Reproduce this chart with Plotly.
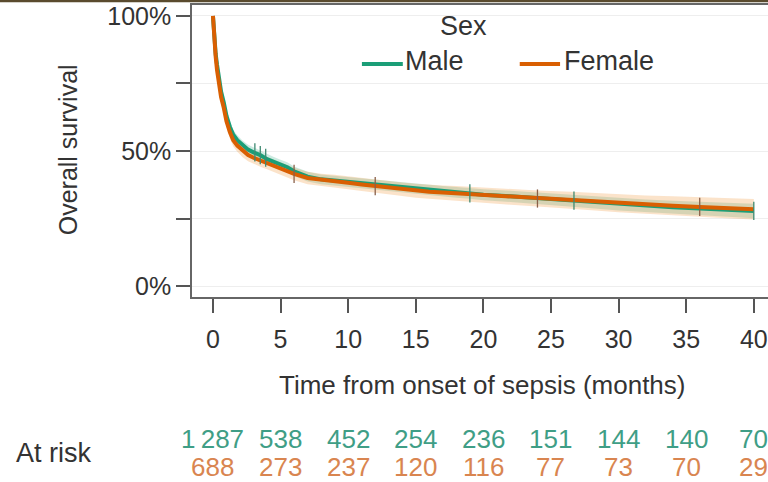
import plotly.graph_objects as go

# Kaplan-Meier estimates (months, % surviving)
male_time = [0, 0.1, 0.2, 0.3, 0.45, 0.6, 0.8, 1.0, 1.25, 1.5, 1.8, 2.2, 2.6, 3.0, 3.5,
             4.0, 4.5, 5.0, 5.5, 6.0, 7, 8, 9, 10, 11, 12, 13, 14, 15, 16, 17, 18, 19,
             20, 22, 24, 26.5, 28, 30, 32, 34, 36, 38, 40]
male_surv = [100, 92, 86, 82, 77, 72, 68, 63, 59, 56, 54, 52, 50.5, 49.5, 48.5,
             47, 46, 45, 44, 42.5, 40.5, 39.5, 39, 38.5, 38, 37.5, 37, 36.5, 36, 35.5, 35, 34.7, 34.3,
             33.8, 33.2, 32.5, 31.6, 31, 30.3, 29.7, 29.2, 28.7, 28.2, 27.8]
male_ci = [0, 0.9, 1.2, 1.4, 1.5, 1.6, 1.7, 1.8, 1.8, 1.8, 1.8, 1.8, 1.8, 1.8, 1.8,
           1.8, 1.8, 1.8, 1.8, 1.8, 1.8, 1.8, 1.8, 1.8, 1.8, 1.9, 1.9, 1.9, 1.9, 1.9, 2.0, 2.0, 2.0,
           2.0, 2.1, 2.1, 2.2, 2.2, 2.3, 2.3, 2.4, 2.5, 2.6, 2.7]

female_time = [0, 0.1, 0.2, 0.3, 0.45, 0.6, 0.8, 1.0, 1.25, 1.5, 1.8, 2.2, 2.6, 3.0, 3.5,
               4.0, 4.5, 5.0, 5.5, 6.0, 7, 8, 9, 10, 11, 12, 13, 14, 15, 16, 17, 18, 19,
               20, 22, 24, 26.5, 28, 30, 32, 34, 36, 38, 40]
female_surv = [100, 91, 85, 80, 75, 70, 66, 61, 57, 54, 52, 50, 48.5, 47.5, 46.5,
               45.5, 44.5, 43.5, 42.5, 41.5, 40, 39.3, 38.8, 38.2, 37.6, 37, 36.4, 35.8, 35.3, 34.9, 34.6, 34.3, 34,
               33.6, 33, 32.4, 31.8, 31.3, 30.6, 30.1, 29.7, 29.3, 28.8, 28.4]
female_ci = [0, 1.3, 1.7, 1.9, 2.0, 2.1, 2.2, 2.2, 2.3, 2.3, 2.3, 2.3, 2.3, 2.3, 2.3,
             2.3, 2.3, 2.3, 2.3, 2.3, 2.3, 2.3, 2.4, 2.4, 2.4, 2.5, 2.5, 2.5, 2.6, 2.6, 2.6, 2.7, 2.7,
             2.8, 2.9, 3.0, 3.1, 3.2, 3.3, 3.4, 3.5, 3.6, 3.7, 3.8]

# Censoring marks
male_cens_time = [3.1, 3.5, 3.9, 19, 26.7, 40]
male_cens_surv = [49.5, 48.5, 47.5, 34.3, 31.6, 27.8]
female_cens_time = [6, 12, 24, 36]
female_cens_surv = [41.5, 37, 32.4, 29.3]

# Numbers at risk
risk_times = [0, 5, 10, 15, 20, 25, 30, 35, 40]
male_at_risk = ["1\u2009287", "538", "452", "254", "236", "151", "144", "140", "70"]
female_at_risk = ["688", "273", "237", "120", "116", "77", "73", "70", "29"]

x_ticks = [0, 5, 10, 15, 20, 25, 30, 35, 40]
y_ticks = [0, 25, 50, 75, 100]
y_labels = ["0%", "", "50%", "", "100%"]

GREEN = "#1b9e77"
ORANGE = "#d95f02"
TEXT = "#333333"
FONT = "Liberation Sans, Arial, sans-serif"

fig = go.Figure()


def add_band(t, s, ci, fillcolor):
    lower = [v - c for v, c in zip(s, ci)]
    upper = [v + c for v, c in zip(s, ci)]
    fig.add_trace(go.Scatter(x=t, y=lower, mode="lines", line=dict(width=0),
                             showlegend=False, hoverinfo="skip"))
    fig.add_trace(go.Scatter(x=t, y=upper, mode="lines", line=dict(width=0),
                             fill="tonexty", fillcolor=fillcolor,
                             showlegend=False, hoverinfo="skip"))


add_band(male_time, male_surv, male_ci, "rgba(27,158,119,0.22)")
add_band(female_time, female_surv, female_ci, "rgba(240,150,60,0.27)")

fig.add_trace(go.Scatter(x=male_time, y=male_surv, mode="lines", name="Male",
                         line=dict(color=GREEN, width=4), showlegend=False))
fig.add_trace(go.Scatter(x=female_time, y=female_surv, mode="lines", name="Female",
                         line=dict(color=ORANGE, width=4), showlegend=False))

fig.add_trace(go.Scatter(x=male_cens_time, y=male_cens_surv, mode="markers", showlegend=False,
                         marker=dict(symbol="line-ns", size=13,
                                     line=dict(color="#3f8a72", width=1.3))))
fig.add_trace(go.Scatter(x=female_cens_time, y=female_cens_surv, mode="markers", showlegend=False,
                         marker=dict(symbol="line-ns", size=13,
                                     line=dict(color="#8a6048", width=1.3))))


def note(text, x, y, size, color=TEXT, xref="paper", xanchor="center", angle=0):
    return dict(text=text, xref=xref, yref="paper", x=x, y=y, xanchor=xanchor,
                yanchor="middle", textangle=angle, showarrow=False,
                font=dict(size=size, color=color))


annotations = [
    note("Time from onset of sepsis (months)", 0.505, -0.301, 26),
    note("Overall survival", -0.215, 0.503, 25, angle=-90),
    note("Sex", 0.4705, 0.927, 27),
    note("Male", 0.367, 0.808, 27, xanchor="left"),
    note("Female", 0.642, 0.808, 27, xanchor="left"),
    note("At risk", -0.24, -0.533, 27),
]
for t, m, f in zip(risk_times, male_at_risk, female_at_risk):
    annotations.append(note(m, t, -0.487, 26, color="#3f9e86", xref="x"))
    annotations.append(note(f, t, -0.582, 26, color="#d98550", xref="x"))

shapes = [
    # legend keys
    dict(type="line", xref="paper", yref="paper", x0=0.295, x1=0.366, y0=0.798, y1=0.798,
         line=dict(color=GREEN, width=4)),
    dict(type="line", xref="paper", yref="paper", x0=0.569, x1=0.639, y0=0.798, y1=0.798,
         line=dict(color=ORANGE, width=4)),
    # frame strip along the top edge
    dict(type="rect", xref="paper", yref="paper", x0=-0.4, x1=1.1, y0=1.0095, y1=1.03,
         fillcolor="#5a4b2e", line=dict(width=0), layer="above"),
]

fig.update_layout(
    width=768, height=482,
    margin=dict(l=192, r=0, t=5, b=185),
    paper_bgcolor="white", plot_bgcolor="white",
    font=dict(family=FONT, color=TEXT),
    annotations=annotations,
    shapes=shapes,
    showlegend=False,
)

fig.update_xaxes(range=[-1.55, 41.05], tickvals=x_ticks, ticks="outside", ticklen=14,
                 tickcolor="#555", tickwidth=1.5, showline=True, linecolor="#666", linewidth=1.5,
                 mirror=True, showgrid=False, zeroline=False,
                 tickfont=dict(size=25, color=TEXT), ticklabelstandoff=5)
fig.update_yaxes(range=[-4.07, 104.07], tickvals=y_ticks, ticktext=y_labels, ticks="outside",
                 ticklen=14, tickcolor="#555", tickwidth=1.5, showline=True, linecolor="#666",
                 linewidth=1.5, showgrid=True, gridcolor="#eeeeee", zeroline=False,
                 tickfont=dict(size=25, color=TEXT), ticklabelstandoff=0)

fig.write_html("out.html")
